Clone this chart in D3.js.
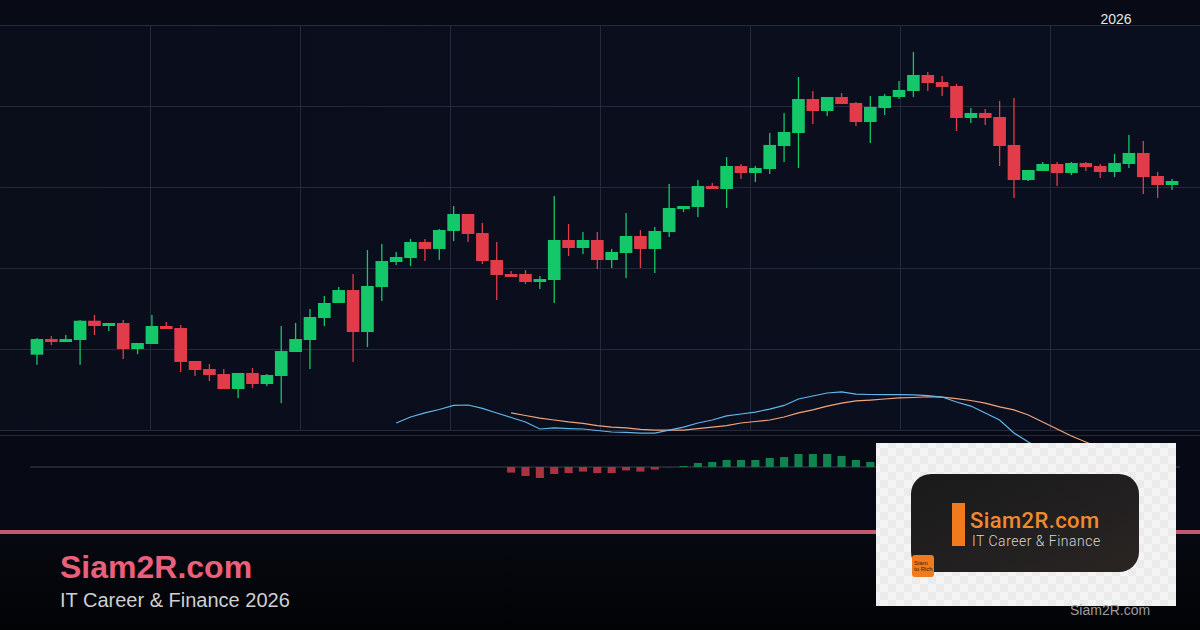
<!DOCTYPE html>
<html><head><meta charset="utf-8">
<script src="https://cdn.jsdelivr.net/npm/d3@7/dist/d3.min.js"></script>
<style>html,body{margin:0;padding:0;background:#080b15;overflow:hidden}svg{display:block}</style>
</head><body>
<svg id="chart" width="1200" height="630"></svg>
<script>
// ---------- DATA ----------
const openP  = [109.30,111.23,110.86,111.11,113.49,112.84,113.21,110.00,110.62,112.84,
                112.59,108.52,107.53,106.91,105.06,107.04,105.68,106.67,109.63,111.11,
                113.83,115.68,117.28,112.10,117.65,120.74,121.23,123.21,122.35,124.57,
                126.67,124.32,120.99,119.26,119.26,118.27,118.52,123.46,122.47,123.46,
                120.99,121.85,123.95,122.35,124.44,127.28,127.53,130.12,129.75,132.59,
                131.73,132.22,135.06,136.67,140.86,139.38,141.11,140.37,138.02,139.75,
                141.11,141.85,143.83,142.96,142.47,138.52,139.14,138.64,135.19,130.86,
                131.98,132.84,131.73,132.96,132.59,131.85,132.84,134.20,131.36,130.25];
const highP  = [111.36,111.60,111.73,113.58,114.20,113.21,113.58,110.74,114.20,113.33,
                112.96,108.52,108.15,107.53,107.04,107.65,106.91,112.84,113.21,114.94,
                116.54,117.65,119.26,122.22,122.96,121.98,123.58,123.58,124.81,127.65,
                126.67,125.56,123.21,119.63,119.75,119.01,128.89,125.43,124.44,124.44,
                122.35,126.79,124.69,125.06,130.37,127.65,130.86,130.49,133.70,132.84,
                132.59,136.67,139.14,143.58,141.85,141.11,141.60,140.49,141.23,141.48,
                143.09,146.67,144.20,143.70,142.72,139.75,139.63,140.62,140.99,132.10,
                133.09,133.09,133.09,133.09,132.84,134.07,136.42,135.68,131.85,130.99];
const lowP   = [108.06,110.49,110.86,108.06,111.73,112.22,108.77,109.38,110.62,112.47,
                107.16,106.67,106.05,105.06,103.95,105.19,105.43,103.33,109.63,107.53,
                112.84,115.68,108.40,110.25,115.93,120.37,120.25,120.86,120.99,123.33,
                123.21,120.49,116.05,118.89,118.02,117.41,115.68,121.48,121.73,119.88,
                120.00,118.77,120.00,119.38,123.83,126.91,126.30,129.75,127.41,130.99,
                130.62,131.60,133.09,132.35,137.78,138.77,140.25,137.53,135.43,138.89,
                140.86,141.11,141.85,141.23,136.91,137.90,137.65,132.59,128.64,130.74,
                131.98,130.12,131.48,131.98,131.11,131.23,132.35,129.14,128.64,129.63];
const closeP = [111.23,110.86,111.23,113.49,112.84,113.21,110.00,110.74,112.84,112.47,
                108.40,107.41,106.79,105.06,107.04,105.68,106.79,109.75,111.23,113.95,
                115.68,117.28,112.10,117.78,120.86,121.36,123.21,122.35,124.69,126.67,
                124.20,120.86,119.14,118.89,118.27,118.64,123.46,122.47,123.46,120.99,
                121.98,123.95,122.35,124.57,127.41,127.65,130.12,129.75,132.59,131.73,
                132.35,135.19,136.79,140.86,139.38,141.11,140.25,138.02,139.88,141.23,
                141.98,143.83,142.84,142.35,138.52,139.14,138.52,135.06,130.86,132.10,
                132.84,131.73,132.96,132.47,131.85,132.96,134.20,131.23,130.25,130.74];

// MACD line (starts at candle 25), signal line (starts at candle 33), histogram (starts at candle 33)
const macdStart = 25;
const macdValues = [-0.20,0.20,0.47,0.70,0.97,1.00,0.77,0.47,0.17,-0.13,
                    -0.60,-0.53,-0.57,-0.60,-0.70,-0.80,-0.83,-0.87,-0.87,-0.67,
                    -0.47,-0.20,0.00,0.27,0.40,0.53,0.73,0.97,1.40,1.60,
                    1.80,1.87,1.73,1.70,1.69,1.69,1.67,1.63,1.53,1.20,
                    0.93,0.47,0.00,-0.87,-1.47,-2.00];
const signalStart = 33;
const signalValues = [0.47,0.30,0.13,0.00,-0.13,-0.23,-0.37,-0.47,-0.53,-0.63,
                      -0.67,-0.67,-0.67,-0.57,-0.47,-0.37,-0.20,-0.10,0.00,0.20,
                      0.47,0.67,0.93,1.13,1.27,1.33,1.40,1.47,1.50,1.55,
                      1.53,1.43,1.30,1.13,0.87,0.67,0.33,-0.13,-0.60,-1.07,
                      -1.47,-1.87];
const histStart = 33;
const histValues = [-0.28,-0.45,-0.55,-0.35,-0.30,-0.23,-0.30,-0.30,-0.17,-0.23,
                    -0.13,-0.01,0.05,0.20,0.25,0.35,0.35,0.35,0.45,0.50,
                    0.65,0.65,0.65,0.55,0.35,0.25];

const priceTicks = [100,110,120,130,140,150];
const timeGrid = [1,2,3,4,5,6,7];
const yearLabel = "2026";
const brandTitle = "Siam2R.com";
const brandSub = "IT Career & Finance 2026";
const logoTitle = "Siam2R.com";
const logoSub = "IT Career & Finance";
const badgeLines = ["Siam","to Rich"];

// ---------- SETUP ----------
const W = 1200, H = 630;
const svg = d3.select("#chart");
const defs = svg.append("defs");

const footGrad = defs.append("linearGradient").attr("id","foot").attr("x1",0).attr("y1",0).attr("x2",0).attr("y2",1);
footGrad.append("stop").attr("offset","0%").attr("stop-color","#070911");
footGrad.append("stop").attr("offset","100%").attr("stop-color","#020305");

const paneGrad = defs.append("linearGradient").attr("id","pane").attr("x1",0).attr("y1",0).attr("x2",1).attr("y2",0);
paneGrad.append("stop").attr("offset","0%").attr("stop-color","#0a0e1b");
paneGrad.append("stop").attr("offset","100%").attr("stop-color","#0a0f1f");

const checker = defs.append("pattern").attr("id","checker").attr("width",16).attr("height",16).attr("patternUnits","userSpaceOnUse");
checker.append("rect").attr("width",16).attr("height",16).attr("fill","#f4f4f4");
checker.append("rect").attr("width",8).attr("height",8).attr("fill","#ebebeb");
checker.append("rect").attr("x",8).attr("y",8).attr("width",8).attr("height",8).attr("fill","#ebebeb");

const logoGrad = defs.append("linearGradient").attr("id","logoBg").attr("x1",0).attr("y1",0).attr("x2",1).attr("y2",1);
logoGrad.append("stop").attr("offset","0%").attr("stop-color","#1a1a1a");
logoGrad.append("stop").attr("offset","60%").attr("stop-color","#222020");
logoGrad.append("stop").attr("offset","100%").attr("stop-color","#2a2522");

// scales
const n = openP.length;
const x = d3.scaleBand().domain(d3.range(n)).range([29.8, 1179.2]).paddingInner(0.12).paddingOuter(0.06);
const y = d3.scaleLinear().domain([100,150]).range([430,25]);
const gx = d3.scaleLinear().domain([0,8]).range([0,W]);
const macdY = d3.scaleLinear().domain([-2,2]).range([450,390]);
const histY = d3.scaleLinear().domain([-1,1]).range([487,447]);
const cx = i => x(i) + x.bandwidth()/2;

// backgrounds
svg.append("rect").attr("x",0).attr("y",0).attr("width",W).attr("height",25).attr("fill","#080b16");
svg.append("rect").attr("x",0).attr("y",25).attr("width",W).attr("height",405).attr("fill","url(#pane)");
svg.append("rect").attr("x",0).attr("y",430).attr("width",W).attr("height",100).attr("fill","#070a14");
svg.append("rect").attr("x",0).attr("y",534).attr("width",W).attr("height",96).attr("fill","url(#foot)");

// grid
const grid = svg.append("g").attr("stroke","#242a3b").attr("stroke-width",1).attr("shape-rendering","crispEdges");
grid.selectAll("line.h").data(priceTicks).join("line").attr("class","h")
  .attr("x1",0).attr("x2",W).attr("y1",d=>Math.round(y(d))+0.5).attr("y2",d=>Math.round(y(d))+0.5);
grid.selectAll("line.v").data(timeGrid).join("line").attr("class","v")
  .attr("x1",d=>gx(d)+0.5).attr("x2",d=>gx(d)+0.5).attr("y1",y(150)).attr("y2",y(100));
// pane separator
svg.append("line").attr("x1",0).attr("x2",W).attr("y1",435.5).attr("y2",435.5).attr("stroke","#242a3b");

// candles
const candles = d3.range(n).map(i=>({i,o:openP[i],h:highP[i],l:lowP[i],c:closeP[i]}));
const up = "#14c768", down = "#e23c4b";
const cg = svg.append("g");
cg.selectAll("line.wick").data(candles).join("line").attr("class","wick")
  .attr("x1",d=>cx(d.i)).attr("x2",d=>cx(d.i))
  .attr("y1",d=>y(d.h)).attr("y2",d=>y(d.l))
  .attr("stroke",d=>d.c>=d.o?up:down).attr("stroke-width",1.3);
cg.selectAll("rect.body").data(candles).join("rect").attr("class","body")
  .attr("x",d=>x(d.i)).attr("width",x.bandwidth())
  .attr("y",d=>y(Math.max(d.o,d.c)))
  .attr("height",d=>Math.max(1,Math.abs(y(d.o)-y(d.c))))
  .attr("fill",d=>d.c>=d.o?up:down);

// histogram zero line + bars
svg.append("line").attr("x1",30).attr("x2",1180).attr("y1",histY(0)).attr("y2",histY(0))
  .attr("stroke","#3a4052").attr("stroke-width",1);
const hist = histValues.map((v,k)=>({i:histStart+k,v}));
const hw = x.bandwidth()*0.64;
svg.append("g").selectAll("rect").data(hist).join("rect")
  .attr("x",d=>cx(d.i)-hw/2).attr("width",hw)
  .attr("y",d=>Math.min(histY(d.v),histY(0)))
  .attr("height",d=>Math.abs(histY(d.v)-histY(0)))
  .attr("fill",d=>d.v>=0?"#12834f":"#a9343f");

// MACD & signal lines
const macdPts = macdValues.map((v,k)=>({i:macdStart+k,v}));
const sigPts = signalValues.map((v,k)=>({i:signalStart+k,v}));
const ln = d3.line().x(d=>cx(d.i)).y(d=>macdY(d.v));
svg.append("path").datum(sigPts).attr("d",ln).attr("fill","none").attr("stroke","#f2a47a").attr("stroke-width",1.2);
svg.append("path").datum(macdPts).attr("d",ln).attr("fill","none").attr("stroke","#62b6ea").attr("stroke-width",1.2);

// pink divider
svg.append("rect").attr("x",0).attr("y",530).attr("width",W).attr("height",4).attr("fill","#c45a71");

// year label
svg.append("text").attr("x",1116).attr("y",24).attr("text-anchor","middle")
  .attr("font-family","Liberation Sans, Arial, sans-serif").attr("font-size",14).attr("fill","#e6e6e6").text(yearLabel);

// footer brand
svg.append("text").attr("x",60).attr("y",578).attr("font-family","Liberation Sans, Arial, sans-serif")
  .attr("font-weight","bold").attr("font-size",32).attr("fill","#ea5f7b").text(brandTitle);
svg.append("text").attr("x",60).attr("y",607).attr("font-family","Liberation Sans, Arial, sans-serif")
  .attr("font-size",20).attr("fill","#cfcfd4").text(brandSub);

// logo card
const lg = svg.append("g");
lg.append("rect").attr("x",876).attr("y",443).attr("width",300).attr("height",163).attr("fill","url(#checker)");
lg.append("rect").attr("x",911).attr("y",474).attr("width",228).attr("height",98).attr("rx",20).attr("fill","url(#logoBg)");
lg.append("rect").attr("x",952).attr("y",503).attr("width",13).attr("height",43).attr("fill","#f07b1f");
lg.append("text").attr("x",970).attr("y",528).attr("font-family","Roboto, Inter, sans-serif").attr("font-weight",500)
  .attr("font-size",22).attr("letter-spacing",0.4).attr("fill","#f08a2e").text(logoTitle);
lg.append("text").attr("x",972).attr("y",546).attr("font-family","Roboto, Inter, sans-serif").attr("font-weight",300)
  .attr("font-size",14).attr("letter-spacing",0.5).attr("fill","#d6d6d6").text(logoSub);
lg.append("rect").attr("x",912).attr("y",555).attr("width",22).attr("height",22).attr("rx",3).attr("fill","#f07b1f");
lg.selectAll("text.badge").data(badgeLines).join("text").attr("class","badge")
  .attr("x",914).attr("y",(d,k)=>565+k*6).attr("font-family","Liberation Sans, Arial, sans-serif")
  .attr("font-size",6).attr("fill","#3a1a05").text(d=>d);

// bottom-right watermark
svg.append("text").attr("x",1070).attr("y",615).attr("font-family","Liberation Sans, Arial, sans-serif")
  .attr("font-size",14).attr("fill","#9c9ca4").text("Siam2R.com");
</script>
</body></html>
